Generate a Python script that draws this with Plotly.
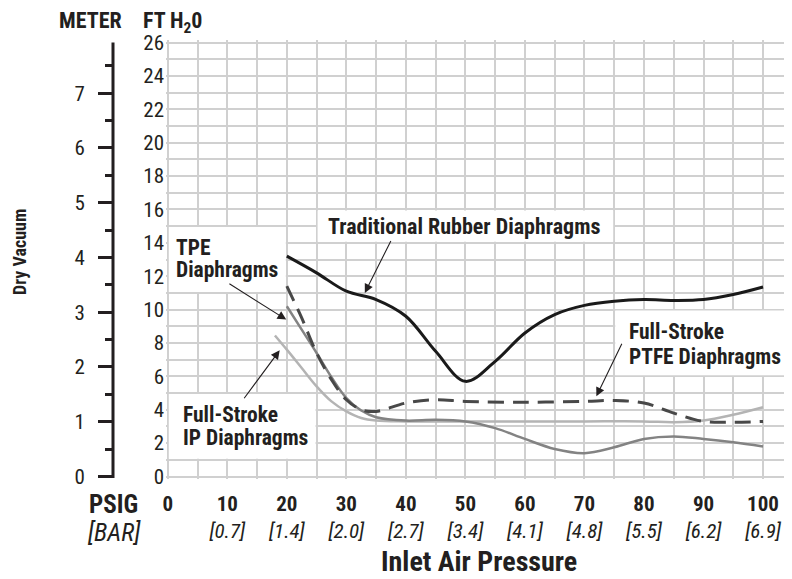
import plotly.graph_objects as go

# ---------------- data ----------------
psig_ticks = [0, 10, 20, 30, 40, 50, 60, 70, 80, 90, 100]
bar_labels = ["", "[0.7]", "[1.4]", "[2.0]", "[2.7]", "[3.4]", "[4.1]", "[4.8]", "[5.5]", "[6.2]", "[6.9]"]
ft_ticks = list(range(0, 27, 2))
meter_ticks = [0, 1, 2, 3, 4, 5, 6, 7]

trad_x = [20, 25, 30, 35, 40, 45, 50, 55, 60, 65, 70, 75, 80, 85, 90, 95, 100]
trad_y = [13.2, 12.2, 11.1, 10.6, 9.6, 7.5, 5.7, 6.9, 8.6, 9.7, 10.25, 10.5, 10.6, 10.55, 10.6, 10.9, 11.35]

ptfe_x = [20, 22.5, 25, 27.5, 30, 32.5, 35, 40, 45, 50, 60, 70, 75, 80, 85, 90, 95, 100]
ptfe_y = [11.4, 9.5, 7.4, 5.8, 4.6, 4.0, 3.9, 4.4, 4.6, 4.5, 4.45, 4.5, 4.55, 4.4, 3.8, 3.3, 3.25, 3.3]

tpe_x = [20, 22.5, 25, 27.5, 30, 32.5, 35, 40, 45, 50, 55, 60, 65, 70, 75, 80, 85, 90, 95, 100]
tpe_y = [10.2, 8.8, 7.4, 5.95, 4.7, 3.95, 3.55, 3.35, 3.4, 3.3, 2.9, 2.25, 1.65, 1.4, 1.75, 2.25, 2.4, 2.25, 2.05, 1.8]

ip_x = [18, 20, 22.5, 25, 27.5, 30, 32.5, 35, 40, 50, 60, 70, 80, 85, 90, 95, 100]
ip_y = [8.45, 7.6, 6.5, 5.4, 4.5, 3.9, 3.5, 3.35, 3.3, 3.3, 3.3, 3.3, 3.3, 3.25, 3.35, 3.7, 4.15]

FT_PER_M = 3.28084

# ---------------- style / geometry ----------------
FONT = "Roboto Condensed, Liberation Sans Narrow, Arial Narrow, Liberation Sans, sans-serif"
TXT = "#231f20"
GRID = "#d0d0d0"
OFF = 8                      # page body margin
FW, FH = 784, 571
MT, MB = 32, 100
PLOT_TOP, PLOT_BOT = MT + OFF, FH - MB + OFF   # in screen pixels
PLOT_H = PLOT_BOT - PLOT_TOP
x_range = [-0.3, 104.7]
y_range = [-0.15, 26.15]


def px_x(px):
    return (px - OFF) / FW


def px_y(py):
    return (PLOT_BOT - py) / PLOT_H


fig = go.Figure()

fig.add_trace(go.Scatter(x=ip_x, y=ip_y, mode="lines",
                         line=dict(color="#b4b4b4", width=2.5, shape="spline", smoothing=1.0)))
fig.add_trace(go.Scatter(x=tpe_x, y=tpe_y, mode="lines",
                         line=dict(color="#838383", width=2.5, shape="spline", smoothing=1.0)))
fig.add_trace(go.Scatter(x=ptfe_x, y=ptfe_y, mode="lines",
                         line=dict(color="#484848", width=3, dash="16px,9px", shape="spline", smoothing=1.0)))
fig.add_trace(go.Scatter(x=trad_x, y=trad_y, mode="lines",
                         line=dict(color="#1a1a1a", width=3, shape="spline", smoothing=1.0)))
fig.add_trace(go.Scatter(x=[None], y=[None], yaxis="y2", showlegend=False))

tick_text = []
for p, b in zip(psig_ticks, bar_labels):
    tick_text.append(f"<b>{p}</b><br><i>{b}</i>" if b else f"<b>{p}</b>")

fig.update_layout(
    width=FW, height=FH,
    margin=dict(l=0, r=0, t=MT, b=MB, autoexpand=False),
    paper_bgcolor="white", plot_bgcolor="white",
    showlegend=False,
    font=dict(family=FONT, color=TXT),
    xaxis=dict(
        domain=[px_x(166), px_x(791)], range=x_range,
        tickvals=psig_ticks, ticktext=tick_text,
        tickfont=dict(size=21, color=TXT, family=FONT),
        showgrid=True, gridcolor=GRID, gridwidth=2,
        minor=dict(dtick=5, tick0=0, showgrid=True, gridcolor=GRID, gridwidth=2),
        zeroline=False, showline=False, ticks="", ticklabelstandoff=10,
    ),
    yaxis=dict(
        range=y_range, tickvals=ft_ticks,
        tickfont=dict(size=21, color=TXT, family=FONT),
        showgrid=True, gridcolor=GRID, gridwidth=2,
        minor=dict(dtick=1, tick0=0, showgrid=True, gridcolor=GRID, gridwidth=2),
        zeroline=False, showline=False, ticks="", ticklabelstandoff=1,
    ),
    yaxis2=dict(
        range=[y_range[0] / FT_PER_M, y_range[1] / FT_PER_M],
        overlaying="y", anchor="free", position=px_x(113), side="left",
        tickvals=meter_ticks,
        tickfont=dict(size=21, color=TXT, family=FONT),
        showgrid=False, zeroline=False, showline=False,
        ticks="outside", ticklen=15, tickwidth=3, tickcolor=TXT,
        minor=dict(dtick=0.5, tick0=0, ticks="outside", ticklen=8, tickwidth=3, tickcolor=TXT, showgrid=False),
        ticklabelstandoff=9,
    ),
)

# meter axis line
fig.add_shape(type="line", xref="paper", yref="y", x0=px_x(113), x1=px_x(113), y0=-0.09, y1=26,
              line=dict(color=TXT, width=3))

# white label boxes (between grid and traces)
dx, dy = 0.17, 0.06
boxes = [(25, 75, 14, 16), (0, 20, 11, 15), (0, 25, 1, 5), (75, 106, 6, 10)]
for bx0, bx1, by0, by1 in boxes:
    fig.add_shape(type="rect", xref="x", yref="y", x0=bx0 + dx, x1=bx1 - dx, y0=by0 + dy, y1=by1 - dy,
                  fillcolor="white", line=dict(width=0), layer="between")


def label(text, x, y, xanchor="left", size=21.5):
    fig.add_annotation(x=x, y=y, xref="x", yref="y", text=f"<b>{text}</b>", showarrow=False,
                       xanchor=xanchor, yanchor="middle", font=dict(size=size, color=TXT, family=FONT))


label("Traditional Rubber Diaphragms", 49.7, 15.0, xanchor="center", size=22)
label("TPE", 1.0, 13.71)
label("Diaphragms", 1.0, 12.40)
label("Full-Stroke", 2.2, 3.71)
label("IP Diaphragms", 2.2, 2.32)
label("Full-Stroke", 77.2, 8.70)
label("PTFE Diaphragms", 77.2, 7.20)


def arrow(tx, ty, hx, hy):
    fig.add_annotation(x=hx, y=hy, ax=tx, ay=ty, xref="x", yref="y", axref="x", ayref="y",
                       text="", showarrow=True, arrowhead=2, arrowsize=1.6, arrowwidth=1.1,
                       arrowcolor=TXT, standoff=0, startstandoff=0)


arrow(37.6, 14.2, 33.1, 11.0)
arrow(10.1, 11.6, 19.9, 9.4)
arrow(12.65, 4.6, 18.8, 7.56)
arrow(76.4, 8.04, 72.0, 4.8)


def ptext(text, px, py, size, angle=0, italic=False):
    t = f"<i>{text}</i>" if italic else f"<b>{text}</b>"
    fig.add_annotation(x=px_x(px), y=px_y(py), xref="paper", yref="paper", text=t, showarrow=False,
                       xanchor="center", yanchor="middle", textangle=angle,
                       font=dict(size=size, color=TXT, family=FONT))


ptext("METER", 90, 21, 22)
ptext("FT H<sub>2</sub>0", 172, 22, 22)
ptext("Dry Vacuum", 20, 252, 18, angle=-90)
ptext("PSIG", 113, 504, 25)
ptext("[BAR]", 114, 532, 25, italic=True)
ptext("Inlet Air Pressure", 479, 561, 28)

fig.write_html("out.html")
